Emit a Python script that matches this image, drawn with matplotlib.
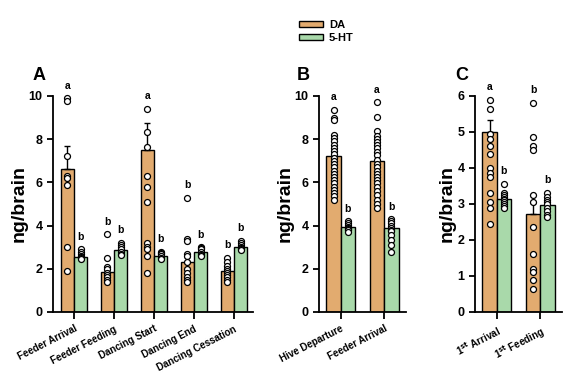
import matplotlib
matplotlib.use("Agg")
import numpy as np
import matplotlib.pyplot as plt
from matplotlib.patches import Patch

plt.rcParams["font.family"] = ["Liberation Sans", "DejaVu Sans"]
plt.rcParams["font.weight"] = "bold"
plt.rcParams["mathtext.default"] = "bf"

COLOR_DA = "#E2AB6F"
COLOR_HT = "#A9D9AA"

# ---- Panel A ----
a_labels = ["Feeder Arrival", "Feeder Feeding", "Dancing Start", "Dancing End", "Dancing Cessation"]
a_da_mean = [6.6, 1.85, 7.5, 2.3, 1.88]
a_da_se = [1.1, 0.15, 1.25, 0.25, 0.12]
a_ht_mean = [2.55, 2.85, 2.6, 2.8, 3.0]
a_ht_se = [0.06, 0.07, 0.05, 0.05, 0.06]
a_da_pts = [
    [9.9, 9.75, 7.2, 6.3, 6.2, 5.9, 3.0, 1.9],
    [3.6, 2.5, 2.1, 2.0, 1.8, 1.7, 1.6, 1.5, 1.4],
    [9.4, 8.35, 7.65, 6.3, 5.8, 5.1, 3.2, 3.0, 2.9, 2.6, 1.8],
    [5.3, 3.4, 3.3, 2.7, 2.6, 2.3, 2.0, 1.8, 1.6, 1.5, 1.4],
    [2.5, 2.3, 2.15, 2.0, 1.9, 1.8, 1.7, 1.6, 1.5, 1.4],
]
a_ht_pts = [
    [2.9, 2.8, 2.7, 2.6, 2.55, 2.5, 2.45],
    [3.2, 3.1, 3.0, 2.9, 2.8, 2.7, 2.65],
    [2.8, 2.75, 2.7, 2.6, 2.5, 2.45],
    [3.0, 2.95, 2.9, 2.8, 2.7, 2.65, 2.6],
    [3.3, 3.2, 3.1, 3.0, 2.95, 2.9, 2.85],
]
a_da_letters = ["a", "b", "a", "b", "b"]
a_ht_letters = ["b", "b", "b", "b", "b"]

# ---- Panel B ----
b_labels = ["Hive Departure", "Feeder Arrival"]
b_da_mean = [7.2, 6.98]
b_da_se = [0.0, 0.0]
b_ht_mean = [3.95, 3.9]
b_ht_se = [0.0, 0.0]
b_da_pts = [
    [9.35, 9.0, 8.9, 8.2, 8.05, 7.9, 7.75, 7.6, 7.45, 7.3, 7.15, 7.0, 6.85, 6.7,
     6.55, 6.4, 6.25, 6.1, 5.95, 5.8, 5.65, 5.5, 5.35, 5.2],
    [9.7, 9.05, 8.4, 8.15, 8.0, 7.85, 7.75, 7.6, 7.4, 7.25, 7.05, 6.85, 6.7, 6.55,
     6.4, 6.25, 6.1, 5.95, 5.8, 5.6, 5.4, 5.2, 5.0, 4.8],
]
b_ht_pts = [
    [4.2, 4.1, 4.05, 3.95, 3.9, 3.85, 3.8, 3.7],
    [4.3, 4.2, 4.1, 4.0, 3.9, 3.8, 3.75, 3.55, 3.35, 3.1, 2.8],
]
b_da_letters = ["a", "a"]
b_ht_letters = ["b", "b"]

# ---- Panel C ----
c_labels = [r"1$^{st}$ Arrival", r"1$^{st}$ Feeding"]
c_da_mean = [5.0, 2.72]
c_da_se = [0.33, 0.3]
c_ht_mean = [3.15, 2.98]
c_ht_se = [0.05, 0.05]
c_da_pts = [
    [5.9, 5.65, 4.95, 4.8, 4.6, 4.4, 4.0, 3.85, 3.75, 3.3, 3.05, 2.9, 2.45],
    [5.8, 4.85, 4.6, 4.5, 3.25, 3.05, 2.35, 1.6, 1.2, 1.1, 0.9, 0.65],
]
c_ht_pts = [
    [3.55, 3.3, 3.25, 3.2, 3.15, 3.1, 3.05, 3.0, 2.95, 2.9],
    [3.3, 3.2, 3.1, 3.05, 3.0, 2.9, 2.8, 2.7, 2.65],
]
c_da_letters = ["a", "b"]
c_ht_letters = ["b", "b"]

W, H = 567, 378
fig = plt.figure(figsize=(W / 100, H / 100), dpi=100)


def px_axes(left, width, bottom=312, top=96):
    return fig.add_axes([left / W, (H - bottom) / H, width / W, (bottom - top) / H])


def draw_panel(ax, labels, da_mean, da_se, ht_mean, ht_se, da_pts, ht_pts,
               da_let, ht_let, ymax, yticks, letter_pad, xlim):
    x = np.arange(len(labels))
    w = 0.33
    for vals, se, pts, lets, off, col in [
        (da_mean, da_se, da_pts, da_let, -w / 2, COLOR_DA),
        (ht_mean, ht_se, ht_pts, ht_let, w / 2, COLOR_HT),
    ]:
        ax.bar(x + off, vals, width=w, color=col, edgecolor="black", linewidth=1.0, zorder=2)
        ax.errorbar(x + off, vals, yerr=[np.zeros(len(vals)), se], fmt="none",
                    ecolor="black", elinewidth=1.0, capsize=2.5, capthick=1.0, zorder=3)
        for i, p in enumerate(pts):
            ax.plot([x[i] + off] * len(p), p, "o", ms=4.3, mfc="white", mec="black",
                    mew=0.9, zorder=4, clip_on=False)
            top = max(max(p), vals[i] + se[i])
            ax.text(x[i] + off, top + letter_pad, lets[i], ha="center", va="bottom",
                    fontsize=7.5, fontweight="bold", clip_on=False)
    ax.set_xlim(*xlim)
    ax.set_ylim(0, ymax)
    ax.set_yticks(yticks)
    ax.set_xticks(x)
    ax.set_xticklabels(labels, rotation=27, ha="right", rotation_mode="anchor",
                       fontsize=7, fontweight="bold")
    ax.tick_params(axis="y", labelsize=9, width=1.3, length=4)
    ax.tick_params(axis="x", width=1.3, length=5)
    for t in ax.get_yticklabels():
        t.set_fontweight("bold")
    ax.spines["top"].set_visible(False)
    ax.spines["right"].set_visible(False)
    ax.spines["left"].set_linewidth(1.3)
    ax.spines["bottom"].set_linewidth(1.3)
    ax.set_ylabel("ng/brain", fontsize=14, fontweight="bold", labelpad=1)


axA = px_axes(53, 200)
draw_panel(axA, a_labels, a_da_mean, a_da_se, a_ht_mean, a_ht_se, a_da_pts, a_ht_pts,
           a_da_letters, a_ht_letters, 10, [0, 2, 4, 6, 8, 10], 0.35, (-0.525, 4.475))
axB = px_axes(319, 87)
draw_panel(axB, b_labels, b_da_mean, b_da_se, b_ht_mean, b_ht_se, b_da_pts, b_ht_pts,
           b_da_letters, b_ht_letters, 10, [0, 2, 4, 6, 8, 10], 0.35, (-0.5, 1.5))
axC = px_axes(475, 87)
draw_panel(axC, c_labels, c_da_mean, c_da_se, c_ht_mean, c_ht_se, c_da_pts, c_ht_pts,
           c_da_letters, c_ht_letters, 6, [0, 1, 2, 3, 4, 5, 6], 0.22, (-0.5, 1.5))

for lab, xp in [("A", 33), ("B", 297), ("C", 455)]:
    fig.text(xp / W, 1 - 76 / H, lab, fontsize=13, fontweight="bold", va="center")

handles = [Patch(facecolor=COLOR_DA, edgecolor="black", linewidth=1.0, label="DA"),
           Patch(facecolor=COLOR_HT, edgecolor="black", linewidth=1.0, label="5-HT")]
fig.legend(handles=handles, loc="upper left", bbox_to_anchor=(289 / W, 1 - 10 / H),
           frameon=False, handlelength=2.2, handleheight=0.5,
           labelspacing=0.25, handletextpad=0.5, prop={"weight": "bold", "size": 8})

fig.savefig("out.png", dpi=100)
